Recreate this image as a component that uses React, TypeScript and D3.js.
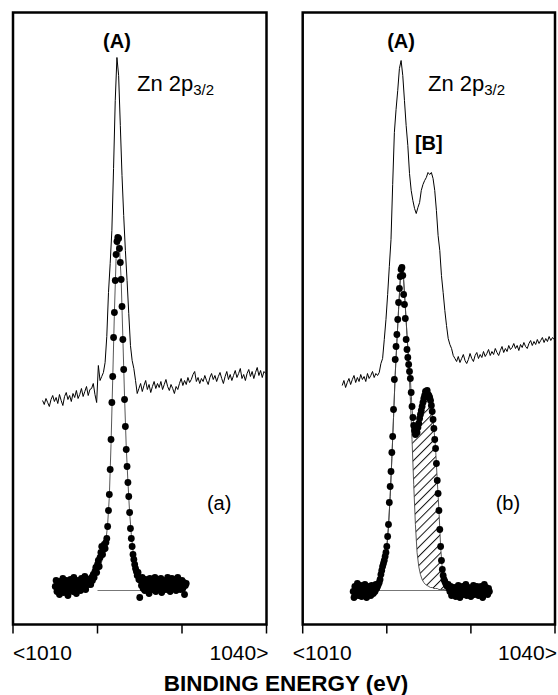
import React from 'react';
import * as d3 from 'd3';

const W = 558;
const H = 695;
const FONT = '"Liberation Sans", Arial, Helvetica, sans-serif';

const ENERGY_TICKS = [1010, 1020, 1030, 1040];
const TICK_LABELS = ['<1010', '1040>'];
const X_TITLE = 'BINDING ENERGY (eV)';

// raw Zn 2p3/2 spectra (upper traces), a.u., 0.2 eV steps
const LEFT_RAW_START = 1013.5;
const RIGHT_RAW_START = 1014.7;
const RAW_STEP = 0.2;
const leftRaw = [
  224, 220, 226, 222, 218, 225, 229, 223, 227, 221, 230, 224, 219, 228, 232, 225, 229, 223, 231, 227,
  234, 226, 230, 236, 228, 233, 238, 229, 235, 236, 241, 230, 222, 259, 244, 248, 252, 262, 288, 332,
  361, 394, 456, 524, 567, 549, 499, 449, 409, 374, 344, 311, 279, 264, 256, 244, 231, 236, 241, 233,
  239, 244, 235, 240, 232, 238, 243, 236, 241, 237, 243, 235, 240, 245, 238, 234, 240, 236, 231, 238,
  235, 241, 246, 239, 244, 240, 247, 242, 245, 250, 253, 243, 247, 241, 246, 243, 249, 244, 240, 247,
  251, 245, 249, 243, 248, 252, 246, 241, 248, 253, 245, 250, 244, 249, 254, 247, 251, 256, 246, 250,
  244, 251, 255, 248, 253, 246, 252, 257, 249, 254, 247, 253, 251,
];
const rightRaw = [
  239, 244, 237, 242, 246, 240, 245, 249, 242, 247, 243, 250, 245, 248, 243, 251, 246, 249, 253, 247,
  251, 249, 252, 261, 266, 285, 305, 330, 358, 385, 440, 492, 515, 534, 556, 564, 549, 524, 499, 479,
  451, 434, 424, 416, 411, 417, 422, 434, 440, 444, 447, 452, 450, 452, 446, 434, 414, 389, 374, 349,
  332, 314, 299, 286, 280, 276, 269, 266, 263, 268, 262, 266, 270, 264, 261, 265, 271, 266, 263, 269,
  272, 266, 270, 267, 273, 268, 271, 275, 269, 273, 270, 276, 272, 269, 274, 278, 272, 276, 273, 279,
  275, 277, 281, 276, 279, 274, 280, 277, 282, 278, 276, 281, 284, 279, 283, 280, 285, 281, 284, 287,
  282, 286, 283, 288, 284, 287, 285,
];

// background-subtracted points (lower traces), 0.1 eV steps
const LEFT_DOT_START = 1015.0;
const RIGHT_DOT_START = 1016.0;
const DOT_STEP = 0.1;
const leftDots = [
  38, 44, 33, 41, 36, 30, 43, 39, 35, 46, 32, 40, 37, 44, 34, 29, 41, 38, 45, 35,
  40, 33, 47, 38, 42, 31, 39, 44, 36, 41, 34, 46, 39, 43, 37, 48, 35, 42, 45, 40,
  42, 45, 40, 47, 44, 50, 47, 53, 57, 52,
  60, 64, 58, 67, 72, 78, 70, 75, 80, 76,
  82, 86, 98, 114, 130, 155, 185, 222, 248, 287,
  312, 344, 370, 383, 387, 386, 376, 362, 345, 318,
  285, 255, 225, 198, 175, 158, 142, 128, 112, 96,
  86, 78, 70, 65, 60, 56, 53, 49, 52, 45,
  27, 44, 39, 47, 36, 42, 34, 45, 40, 37,
  43, 31, 46, 38, 41, 35, 44, 39, 47, 33,
  40, 45, 36, 42, 38, 46, 32, 41, 44, 37,
  43, 35, 40, 47, 38, 44, 33, 41, 46, 36,
  42, 39, 45, 34, 41, 47, 37, 43, 35, 40,
  44, 36, 42, 30, 39, 41,
];
const rightDots = [
  33, 27, 38, 30, 35, 41, 29, 36, 32, 39, 28, 34, 37, 30, 40, 33, 27, 36, 31, 38,
  34, 29, 39, 35, 31, 37, 33, 40, 36, 38,
  40, 42, 45, 50, 54, 58, 61, 64, 68, 72,
  78, 88, 100, 122, 138, 153, 172, 188, 215, 245,
  265, 278, 290, 305, 322, 336, 348, 355, 357, 349,
  330, 320, 306, 285, 275, 267, 260, 253, 246, 232,
  218, 207, 199, 194, 190, 194, 192, 197, 201, 206,
  210, 214, 218, 222, 226, 229, 233, 231, 234, 230,
  229, 227, 224, 219, 213, 205, 196, 185, 176, 161,
  144, 131, 114, 95, 78, 64, 55, 49, 45, 43,
  41, 39, 38, 40, 36, 33, 38, 29, 35, 31,
  37, 33, 28, 36, 31, 39, 34, 27, 35, 32,
  38, 30, 36, 33, 40, 29, 35, 37, 31, 34,
  28, 36, 33, 39, 30, 35, 32, 38, 34, 29,
  36, 31, 38, 33, 27, 35, 40, 32, 37, 34,
  30, 36, 33,
];

// fitted curves, 0.2 eV steps from 1016.0
const FIT_START = 1016.0;
const FIT_STEP = 0.2;
const leftFit = [
  36, 36, 36, 37, 37, 37, 37, 38, 38, 38, 39, 39, 40, 41, 42, 43, 44, 46, 48, 50,
  52, 55, 60, 66, 74, 84, 100, 128, 180, 245, 312, 366, 387, 377, 345, 287, 228, 178, 143, 112,
  90, 74, 63, 56, 51, 48, 46, 45, 44, 43, 42, 42, 41, 41, 40, 40, 39, 39, 39, 38,
  38, 38, 37, 37, 37, 37, 36, 36, 36, 36, 36,
];
const rightFitA = [
  34, 34, 35, 35, 35, 35, 36, 36, 36, 36, 37, 37, 38, 39, 40, 42, 45, 49, 55, 64,
  77, 98, 128, 166, 207, 250, 283, 315, 345, 357, 345, 318, 290, 262, 225, 185, 140, 100, 72, 58,
  50, 45, 42, 40, 39, 38, 37, 37, 36, 36, 36, 35, 35, 35, 35, 34, 34, 34, 34, 34, 34,
];
const rightFitSum = [
  34, 34, 35, 35, 35, 35, 36, 36, 36, 36, 37, 37, 38, 39, 40, 42, 45, 49, 55, 64,
  77, 98, 128, 166, 207, 250, 283, 315, 345, 357, 345, 318, 290, 264, 246, 216, 199, 188, 192, 201,
  210, 218, 226, 233, 234, 229, 224, 213, 196, 176, 144, 114, 78, 55, 45, 41, 38, 37, 36, 35, 34,
];
const BACKGROUND = 34;
const leftBgRange = [1020.0, 1030.0];
const rightBgRange = [1018.2, 1027.9];

const toPoints = (start: number, step: number, vals: number[]) =>
  vals.map((v, i) => ({ e: start + i * step, v }));

const y = d3.scaleLinear().domain([0, 612]).range([624.5, 12.5]);

type Pt = { e: number; v: number };
type PanelProps = {
  id: string;
  x0: number;
  x1: number;
  labelShift: number;
  raw: Pt[];
  dots: Pt[];
  fits: Pt[][];
  hatch?: { a: Pt[]; sum: Pt[] };
  bg: number[];
  tag: string;
  peakA: number;
  peakB?: number;
  znX: number;
};

function Panel(p: PanelProps) {
  const x = d3.scaleLinear().domain([1010, 1040]).range([p.x0, p.x1]);
  const line = d3
    .line<Pt>()
    .x((d) => x(d.e))
    .y((d) => y(d.v));
  const top = y.range()[1];
  const bottom = y.range()[0];

  let hatchPath: string | null = null;
  if (p.hatch) {
    const pts = p.hatch.a.map((d, i) => ({ e: d.e, lo: d.v, hi: p.hatch!.sum[i].v }));
    hatchPath = d3
      .area<{ e: number; lo: number; hi: number }>()
      .x((d) => x(d.e))
      .y0((d) => y(d.lo))
      .y1((d) => y(d.hi))(pts);
  }

  return (
    <g>
      <defs>
        <clipPath id={`clip-${p.id}`}>
          <rect x={p.x0} y={top} width={p.x1 - p.x0} height={bottom - top} />
        </clipPath>
      </defs>
      <g clipPath={`url(#clip-${p.id})`}>
        <line
          x1={x(p.bg[0])}
          x2={x(p.bg[1])}
          y1={y(BACKGROUND)}
          y2={y(BACKGROUND)}
          stroke="#777"
          strokeWidth={1}
        />
        {hatchPath && <path d={hatchPath} fill="url(#hatch)" stroke="none" />}
        {p.fits.map((f, i) => (
          <path key={i} d={line(f) || ''} fill="none" stroke="#444" strokeWidth={0.9} />
        ))}
        {p.dots.map((d, i) => (
          <circle key={i} cx={x(d.e)} cy={y(d.v)} r={3.4} fill="#000" />
        ))}
        <path d={line(p.raw) || ''} fill="none" stroke="#000" strokeWidth={1} />
      </g>
      <rect
        x={p.x0}
        y={top}
        width={p.x1 - p.x0}
        height={bottom - top}
        fill="none"
        stroke="#000"
        strokeWidth={2.5}
      />
      {ENERGY_TICKS.map((t) => (
        <line key={t} x1={x(t)} x2={x(t)} y1={bottom} y2={bottom + 9} stroke="#000" strokeWidth={1.5} />
      ))}
      <text x={x(1010) + p.labelShift} y={660} fontSize={21} fontFamily={FONT}>
        {TICK_LABELS[0]}
      </text>
      <text x={x(1040) + 2} y={660} fontSize={21} fontFamily={FONT} textAnchor="end">
        {TICK_LABELS[1]}
      </text>
      <text x={x(p.peakA)} y={48} fontSize={20} fontWeight="bold" fontFamily={FONT} textAnchor="middle">
        (A)
      </text>
      {p.peakB !== undefined && (
        <text x={x(p.peakB)} y={150} fontSize={20} fontWeight="bold" fontFamily={FONT} textAnchor="middle">
          [B]
        </text>
      )}
      <text x={p.znX} y={91} fontSize={22} fontFamily={FONT}>
        Zn 2p
        <tspan fontSize={15} dy={4}>
          3/2
        </tspan>
      </text>
      <text x={x(1034.4)} y={510} fontSize={20} fontFamily={FONT} textAnchor="middle">
        {p.tag}
      </text>
    </g>
  );
}

export default function App() {
  const leftRawPts = toPoints(LEFT_RAW_START, RAW_STEP, leftRaw);
  const rightRawPts = toPoints(RIGHT_RAW_START, RAW_STEP, rightRaw);
  const leftDotPts = toPoints(LEFT_DOT_START, DOT_STEP, leftDots);
  const rightDotPts = toPoints(RIGHT_DOT_START, DOT_STEP, rightDots);
  const leftFitPts = toPoints(FIT_START, FIT_STEP, leftFit);
  const aPts = toPoints(FIT_START, FIT_STEP, rightFitA);
  const sumPts = toPoints(FIT_START, FIT_STEP, rightFitSum);

  return (
    <svg width={W} height={H} style={{ position: 'absolute', left: 0, top: 0, background: '#fff' }}>
      <defs>
        <pattern id="hatch" width={6.5} height={6.5} patternUnits="userSpaceOnUse" patternTransform="rotate(45)">
          <line x1={0.5} y1={0} x2={0.5} y2={6.5} stroke="#111" strokeWidth={1} />
        </pattern>
      </defs>
      <rect width={W} height={H} fill="#fff" />
      <Panel
        id="a"
        x0={13}
        x1={266.5}
        labelShift={0}
        raw={leftRawPts}
        dots={leftDotPts}
        fits={[leftFitPts]}
        bg={leftBgRange}
        tag="(a)"
        peakA={1022.3}
        znX={137}
      />
      <Panel
        id="b"
        x0={302.7}
        x1={555}
        labelShift={-10}
        raw={rightRawPts}
        dots={rightDotPts}
        fits={[aPts, sumPts]}
        hatch={{ a: aPts, sum: sumPts }}
        bg={rightBgRange}
        tag="(b)"
        peakA={1021.7}
        peakB={1025.0}
        znX={428}
      />
      <text x={286} y={691} fontSize={22.5} fontWeight="bold" fontFamily={FONT} textAnchor="middle">
        {X_TITLE}
      </text>
    </svg>
  );
}
